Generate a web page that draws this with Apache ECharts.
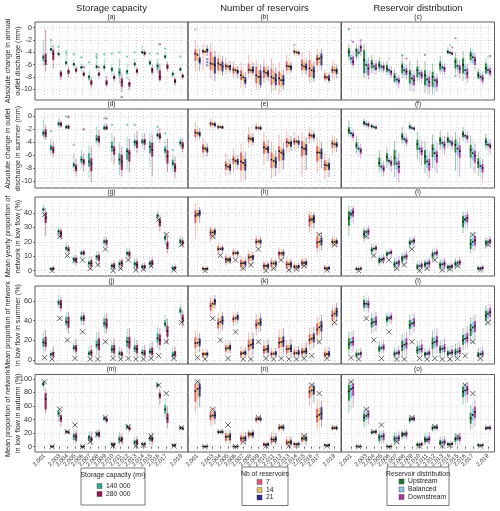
<!DOCTYPE html>
<html>
<head>
<meta charset="utf-8">
<title>Reservoir scenarios</title>
<script src="https://cdn.jsdelivr.net/npm/echarts@6/dist/echarts.min.js"></script>
<style>
  html, body { margin: 0; padding: 0; background: #fff; }
  #main { width: 500px; height: 511px; }
</style>
</head>
<body>
<div id="main"></div>
<script type="text/javascript">
var years = [2001, 2002, 2003, 2004, 2005, 2006, 2007, 2008, 2009, 2010, 2011, 2012, 2013, 2014, 2015, 2016, 2017, 2018, 2019];

// each box: [lower whisker, Q1, median, Q3, upper whisker]
// row 1: absolute change in annual outlet discharge (mm)
var a140 = [[-6.3,-5.35,-4.8,-4.4,-2.0],[-4.2,-3.8,-3.5,-3.3,-2.3],[-4.8,-4.5,-4.3,-4.0,-3.6],[-6.3,-5.95,-5.7,-5.4,-4.4],[-6.6,-6.2,-5.9,-5.7,-5.2],[-7.1,-6.7,-6.4,-6.2,-5.8],[-8.8,-8.4,-7.95,-7.7,-7.1],[-6.9,-6.6,-6.3,-6.1,-4.4],[-7.1,-6.7,-6.4,-6.05,-5.0],[-7.7,-7.1,-6.75,-6.4,-5.8],[-9.0,-7.8,-7.25,-6.6,-5.0],[-8.4,-7.5,-7.1,-6.8,-5.8],[-6.6,-6.2,-5.9,-5.6,-5.0],[-4.4,-4.2,-4.0,-3.8,-2.8],[-6.3,-6.05,-5.7,-5.35,-5.0],[-7.4,-6.8,-6.2,-5.8,-5.0],[-5.2,-4.97,-4.7,-4.4,-3.9],[-8.05,-7.8,-7.5,-7.25,-6.9],[-7.4,-7.0,-6.75,-6.5,-6.05]];
var a280 = [[-7.1,-6.05,-5.35,-4.2,-0.3],[-6.6,-5.24,-4.2,-3.6,-2.8],[-8.5,-7.95,-7.5,-7.1,-6.8],[-8.0,-7.5,-7.1,-6.8,-6.3],[-7.4,-7.14,-6.9,-6.6,-6.2],[-8.05,-7.8,-7.5,-7.25,-6.9],[-9.8,-9.3,-8.9,-8.5,-8.0],[-8.05,-7.8,-7.5,-7.25,-6.9],[-9.6,-9.3,-8.9,-8.5,-7.8],[-8.8,-8.3,-8.05,-7.8,-7.4],[-10.4,-9.57,-8.75,-8.2,-7.4],[-10.1,-9.57,-9.1,-8.8,-8.2],[-7.7,-7.3,-7.05,-6.7,-6.4],[-4.7,-4.4,-4.15,-3.9,-3.6],[-7.7,-7.3,-6.85,-6.5,-6.05],[-8.8,-8.5,-7.95,-6.9,-5.8],[-7.1,-6.7,-6.3,-5.95,-5.5],[-9.4,-9.0,-8.65,-8.3,-7.95],[-8.4,-8.1,-7.85,-7.6,-7.3]];
var a140Out = [[2002,-2.0],[2003,-3.1],[2004,-3.8],[2004,-4.2],[2005,-4.3],[2006,-4.8],[2007,-5.6],[2008,-4.3],[2008,-4.8],[2009,-4.3],[2010,-4.2],[2011,-4.0],[2012,-4.7],[2013,-4.0],[2015,-4.2],[2016,-4.2],[2017,-3.4],[2019,-4.7]];
var a280Out = [[2006,-6.4],[2008,-6.4],[2011,-11.2],[2016,-2.7]];

var b7 = [[-7.2,-5.4,-4.2,-3.5,-2.0],[-6.9,-4.2,-3.8,-3.6,-2.6],[-8.2,-6.9,-5.8,-3.9,-2.5],[-7.6,-6.9,-5.8,-5.0,-4.2],[-7.6,-6.8,-6.2,-5.8,-4.8],[-8.2,-7.4,-6.8,-6.3,-5.4],[-9.8,-8.5,-7.7,-6.9,-5.6],[-8.2,-7.4,-6.8,-5.8,-4.4],[-10.0,-9.0,-7.7,-6.3,-5.2],[-9.0,-8.2,-7.1,-6.3,-5.0],[-10.6,-9.3,-7.95,-6.6,-5.0],[-10.8,-9.3,-8.2,-7.1,-5.6],[-7.6,-6.9,-6.2,-5.5,-4.4],[-4.6,-4.2,-3.9,-3.6,-3.2],[-7.6,-6.9,-6.05,-5.2,-4.0],[-9.0,-8.0,-6.6,-5.2,-3.8],[-7.2,-6.1,-5.1,-4.4,-3.4],[-8.8,-8.4,-7.95,-7.4,-6.8],[-8.4,-7.4,-6.9,-6.3,-5.4]];
var b14 = [[-6.8,-5.3,-4.4,-3.9,-2.8],[-5.0,-4.2,-3.9,-3.6,-2.9],[-7.6,-6.9,-5.9,-4.7,-3.6],[-7.6,-6.9,-6.0,-5.5,-4.5],[-7.2,-6.8,-6.3,-6.0,-5.2],[-8.0,-7.3,-6.9,-6.5,-5.8],[-9.6,-8.6,-8.05,-7.4,-6.3],[-7.8,-7.4,-6.9,-6.3,-5.2],[-9.8,-9.0,-7.95,-6.9,-5.8],[-8.6,-8.0,-7.3,-6.6,-5.6],[-10.2,-9.0,-8.2,-7.1,-5.6],[-10.4,-9.6,-8.5,-7.4,-6.3],[-7.4,-6.9,-6.3,-5.8,-5.0],[-4.6,-4.2,-4.0,-3.8,-3.4],[-7.4,-6.9,-6.3,-5.5,-4.6],[-8.8,-8.0,-6.9,-5.8,-4.6],[-6.6,-5.8,-5.0,-4.7,-3.8],[-8.8,-8.4,-8.05,-7.7,-7.2],[-8.2,-7.4,-6.9,-6.3,-5.6]];
var b21 = [[-7.0,-5.8,-5.35,-4.8,-3.4],[-4.6,-4.0,-3.6,-3.4,-2.8],[-8.7,-7.4,-6.1,-4.7,-3.7],[-7.8,-7.1,-6.3,-5.5,-4.6],[-7.3,-6.9,-6.3,-6.05,-5.4],[-8.2,-7.5,-7.1,-6.8,-6.2],[-9.8,-9.1,-8.6,-8.0,-7.2],[-7.8,-7.3,-6.9,-6.3,-5.6],[-9.8,-9.3,-7.95,-6.9,-6.0],[-8.6,-8.0,-7.4,-6.9,-6.2],[-10.0,-9.3,-8.5,-7.4,-6.4],[-10.0,-9.3,-8.5,-7.7,-6.8],[-7.3,-6.9,-6.4,-6.1,-5.5],[-4.6,-4.3,-4.1,-3.9,-3.6],[-7.6,-6.9,-6.4,-5.8,-5.0],[-8.8,-8.2,-7.1,-6.3,-5.5],[-6.9,-6.1,-4.8,-4.2,-3.4],[-9.0,-8.6,-8.4,-7.7,-7.2],[-8.2,-7.5,-7.0,-6.6,-6.0]];
var b7Out = [[2001,-0.3],[2014,-2.8]];
var b21Out = [[2002,-5.1],[2002,-5.6],[2002,-6.1]];

var cUp = [[-5.4,-4.7,-3.9,-3.35,-2.6],[-5.2,-4.7,-3.7,-3.35,-2.6],[-8.2,-7.4,-5.24,-3.62,-2.6],[-7.4,-6.6,-5.8,-5.24,-4.4],[-7.2,-6.6,-6.05,-5.5,-4.8],[-7.7,-7.14,-6.6,-6.05,-5.4],[-9.0,-8.76,-7.95,-7.4,-6.6],[-8.2,-7.4,-6.3,-5.8,-4.8],[-10.2,-9.03,-7.4,-6.86,-5.4],[-8.6,-8.0,-6.9,-6.3,-5.2],[-10.6,-9.3,-7.7,-6.9,-5.4],[-10.8,-9.57,-7.95,-7.14,-5.8],[-7.4,-6.86,-6.05,-5.5,-4.6],[-4.4,-4.16,-3.89,-3.73,-3.2],[-7.4,-6.6,-5.5,-4.97,-4.0],[-8.6,-7.4,-6.05,-4.97,-3.8],[-5.8,-5.24,-4.43,-3.89,-3.2],[-8.4,-8.2,-7.68,-7.14,-6.6],[-7.6,-7.41,-6.6,-5.8,-5.0]];
var cBal = [[-6.2,-5.8,-5.0,-4.4,-3.6],[-5.0,-4.4,-4.05,-3.6,-3.0],[-8.0,-7.4,-6.05,-5.24,-4.0],[-7.6,-6.9,-6.3,-5.8,-5.0],[-7.3,-6.9,-6.3,-6.05,-5.4],[-8.0,-7.4,-6.9,-6.6,-6.0],[-9.6,-9.03,-8.4,-7.95,-7.2],[-8.2,-7.7,-6.9,-6.3,-5.6],[-10.3,-9.3,-8.2,-7.4,-6.4],[-8.8,-8.2,-7.4,-6.9,-6.2],[-10.8,-9.57,-8.4,-7.7,-6.6],[-10.8,-9.84,-8.5,-7.95,-6.9],[-7.6,-7.14,-6.43,-6.05,-5.5],[-4.5,-4.3,-4.05,-3.89,-3.6],[-7.6,-6.9,-6.2,-5.8,-5.0],[-8.4,-7.7,-6.9,-6.05,-5.2],[-6.3,-5.8,-4.8,-4.16,-3.4],[-8.8,-8.5,-7.95,-7.4,-6.9],[-7.7,-7.41,-6.86,-6.3,-5.6]];
var cDown = [[-6.5,-6.05,-5.5,-4.7,-3.8],[-4.6,-3.9,-3.2,-2.8,-2.3],[-8.4,-7.7,-6.6,-5.8,-4.8],[-7.6,-6.9,-6.6,-5.8,-5.2],[-7.3,-6.9,-6.4,-6.05,-5.5],[-8.2,-7.7,-7.14,-6.9,-6.2],[-9.8,-9.03,-8.6,-8.2,-7.6],[-8.4,-7.7,-7.14,-6.6,-6.0],[-10.4,-9.3,-8.5,-7.7,-6.9],[-9.0,-8.2,-7.7,-7.14,-6.6],[-10.8,-9.57,-8.76,-7.95,-7.0],[-10.4,-9.57,-8.76,-8.2,-7.4],[-7.6,-7.14,-6.6,-6.3,-5.8],[-4.6,-4.4,-4.2,-4.0,-3.7],[-8.2,-7.4,-6.6,-6.05,-5.2],[-9.0,-8.2,-7.4,-6.6,-5.8],[-6.9,-6.05,-5.24,-4.7,-4.0],[-9.2,-8.76,-8.2,-7.68,-7.1],[-8.0,-7.68,-7.14,-6.6,-6.0]];
var cUpOut = [[2001,-0.27],[2008,-4.5],[2011,-4.4],[2015,-1.7],[2015,-7.8]];
var cBalOut = [[2001,-2.1],[2006,-5.0],[2014,-2.8],[2019,-4.8]];
var cDownOut = [[2001,-2.3],[2002,-2.1],[2008,-5.0],[2014,-3.2],[2019,-4.6]];

// row 2: absolute change in outlet discharge in summer (mm)
var d140 = [[-3.4,-3.0,-2.6,-2.2,-0.5],[-6.0,-5.3,-4.9,-4.4,-3.4],[-1.7,-1.45,-1.15,-0.78,-0.26],[-2.0,-1.9,-1.65,-1.4,-1.2],[-8.55,-7.9,-7.5,-7.15,-5.7],[-8.0,-7.25,-6.7,-6.2,-5.2],[-9.6,-7.8,-7.0,-5.7,-4.4],[-4.4,-3.9,-3.5,-2.85,-1.55],[-2.3,-2.07,-1.8,-1.45,-1.0],[-7.0,-5.45,-4.7,-3.9,-2.6],[-9.1,-7.5,-6.7,-5.7,-4.1],[-8.3,-6.7,-5.4,-4.9,-3.1],[-5.2,-4.55,-4.0,-3.6,-2.6],[-4.9,-4.25,-3.9,-3.5,-2.6],[-7.8,-5.7,-4.7,-3.9,-2.6],[-3.6,-3.2,-2.9,-2.6,-2.1],[-6.7,-5.7,-5.2,-4.65,-3.6],[-8.8,-7.7,-7.25,-6.7,-6.0],[-5.0,-4.5,-4.1,-3.7,-3.2]];
var d280 = [[-3.6,-3.2,-2.6,-2.0,-1.3],[-6.3,-5.7,-5.2,-4.65,-3.9],[-1.8,-1.55,-1.2,-0.93,-0.5],[-2.0,-1.95,-1.65,-1.4,-1.2],[-9.2,-8.5,-8.0,-7.5,-6.5],[-8.5,-7.5,-7.0,-6.6,-5.7],[-10.2,-8.5,-7.3,-6.5,-4.7],[-4.7,-4.05,-3.6,-3.0,-2.1],[-2.1,-2.07,-1.8,-1.45,-1.1],[-7.5,-5.95,-5.2,-4.65,-3.1],[-9.3,-8.3,-7.0,-5.95,-4.7],[-8.6,-7.0,-5.7,-5.2,-3.4],[-5.7,-4.9,-4.1,-3.7,-2.3],[-5.2,-4.4,-3.9,-3.5,-2.6],[-9.3,-6.2,-5.2,-4.1,-2.8],[-4.1,-3.5,-3.1,-2.6,-1.8],[-8.6,-7.3,-6.2,-5.2,-3.4],[-9.6,-8.6,-7.9,-7.3,-6.2],[-5.6,-5.0,-4.5,-4.0,-3.4]];
var d140Out = [[2002,-2.3],[2004,0],[2005,-4.4],[2009,-0.3],[2010,-1.3],[2012,-1.3],[2013,-1.3],[2016,-1.6],[2017,-2.6],[2018,-5.2]];
var d280Out = [[2004,-0.1],[2006,-2.0],[2009,-0.3]];

var e7 = [[-3.8,-3.2,-2.5,-2.0,-0.8],[-6.4,-5.6,-4.9,-4.3,-3.3],[-1.9,-1.5,-1.1,-0.8,-0.3],[-2.1,-1.9,-1.6,-1.4,-1.1],[-9.2,-8.3,-7.6,-7.0,-5.6],[-8.6,-7.4,-6.7,-6.1,-5.0],[-10.2,-8.4,-7.0,-5.6,-4.2],[-4.8,-4.0,-3.4,-2.8,-1.6],[-2.3,-2.05,-1.75,-1.45,-0.9],[-7.6,-5.8,-4.8,-3.9,-2.4],[-9.6,-8.0,-6.7,-5.6,-3.8],[-8.8,-6.9,-5.4,-4.6,-2.8],[-5.8,-4.8,-4.0,-3.4,-2.2],[-5.2,-4.4,-3.9,-3.4,-2.4],[-9.4,-6.2,-4.8,-3.8,-2.4],[-4.2,-3.5,-2.9,-2.5,-1.6],[-8.8,-7.0,-5.6,-4.6,-3.2],[-9.8,-8.4,-7.5,-6.8,-5.6],[-5.8,-4.9,-4.2,-3.7,-2.9]];
var e14 = [[-3.5,-3.0,-2.6,-2.2,-1.4],[-6.2,-5.5,-5.0,-4.6,-3.8],[-1.8,-1.5,-1.2,-0.9,-0.5],[-2.0,-1.85,-1.65,-1.45,-1.2],[-9.0,-8.3,-7.8,-7.2,-6.2],[-8.2,-7.4,-6.9,-6.4,-5.6],[-9.8,-8.2,-7.2,-6.2,-4.8],[-4.5,-3.9,-3.5,-3.0,-2.2],[-2.2,-2.0,-1.8,-1.5,-1.1],[-7.2,-5.6,-5.0,-4.3,-3.0],[-9.4,-7.9,-6.9,-6.0,-4.6],[-8.4,-6.8,-5.6,-4.9,-3.4],[-5.5,-4.7,-4.1,-3.6,-2.6],[-5.0,-4.3,-3.9,-3.5,-2.8],[-8.6,-6.0,-5.0,-4.0,-2.8],[-4.0,-3.4,-3.0,-2.6,-2.0],[-8.4,-6.8,-5.6,-4.8,-3.6],[-9.6,-8.3,-7.6,-7.0,-6.0],[-5.6,-4.8,-4.3,-3.8,-3.1]];
var e21 = [[-3.6,-3.1,-2.7,-2.4,-1.8],[-6.2,-5.6,-5.2,-4.8,-4.2],[-1.8,-1.55,-1.25,-1.0,-0.7],[-2.0,-1.9,-1.7,-1.5,-1.3],[-9.0,-8.4,-7.9,-7.4,-6.6],[-8.2,-7.5,-7.0,-6.6,-6.0],[-9.8,-8.4,-7.5,-6.6,-5.4],[-4.5,-4.0,-3.6,-3.2,-2.6],[-2.2,-2.05,-1.85,-1.6,-1.3],[-7.0,-5.7,-5.1,-4.6,-3.6],[-9.2,-8.0,-7.1,-6.3,-5.2],[-8.2,-6.8,-5.8,-5.1,-4.0],[-5.4,-4.7,-4.2,-3.8,-3.0],[-5.0,-4.4,-4.0,-3.7,-3.0],[-8.4,-6.0,-5.1,-4.3,-3.2],[-3.9,-3.4,-3.05,-2.7,-2.2],[-8.0,-6.6,-5.7,-5.0,-4.0],[-9.4,-8.3,-7.7,-7.2,-6.4],[-5.5,-4.8,-4.4,-4.0,-3.4]];
var fUp = [[-3.2,-2.7,-2.2,-1.7,-0.6],[-5.8,-5.0,-4.5,-4.0,-3.0],[-1.6,-1.3,-1.0,-0.7,-0.3],[-1.9,-1.75,-1.5,-1.3,-1.0],[-8.6,-7.8,-7.2,-6.4,-5.2],[-8.0,-7.0,-6.3,-5.7,-4.8],[-9.4,-7.6,-6.4,-5.2,-3.8],[-4.2,-3.6,-3.1,-2.6,-1.6],[-2.1,-1.9,-1.6,-1.35,-0.9],[-6.6,-5.2,-4.3,-3.6,-2.4],[-8.8,-7.4,-6.2,-5.2,-3.8],[-8.0,-6.3,-5.0,-4.3,-2.8],[-5.2,-4.4,-3.7,-3.2,-2.2],[-4.8,-4.1,-3.6,-3.2,-2.4],[-8.4,-5.6,-4.4,-3.6,-2.4],[-3.8,-3.2,-2.7,-2.3,-1.6],[-8.0,-6.4,-5.2,-4.4,-3.0],[-9.2,-8.0,-7.2,-6.5,-5.4],[-5.2,-4.5,-3.9,-3.4,-2.7]];
var fBal = [[-3.5,-3.0,-2.6,-2.3,-1.6],[-6.2,-5.5,-5.0,-4.6,-3.8],[-1.8,-1.5,-1.2,-0.9,-0.6],[-2.0,-1.85,-1.65,-1.45,-1.2],[-9.0,-8.3,-7.8,-7.3,-6.4],[-8.3,-7.4,-6.9,-6.5,-5.8],[-9.8,-8.3,-7.3,-6.4,-5.0],[-4.6,-3.9,-3.5,-3.1,-2.4],[-2.2,-2.0,-1.8,-1.55,-1.2],[-7.2,-5.7,-5.0,-4.4,-3.2],[-9.3,-8.0,-7.0,-6.1,-4.8],[-8.5,-6.8,-5.7,-5.0,-3.6],[-5.6,-4.8,-4.1,-3.7,-2.8],[-5.0,-4.4,-3.9,-3.6,-2.9],[-8.8,-6.0,-5.0,-4.1,-2.9],[-4.0,-3.4,-3.0,-2.7,-2.1],[-8.4,-6.8,-5.7,-4.9,-3.6],[-9.6,-8.4,-7.7,-7.1,-6.2],[-5.6,-4.8,-4.4,-3.9,-3.2]];
var fDown = [[-3.8,-3.3,-2.9,-2.5,-1.9],[-6.5,-5.8,-5.3,-4.9,-4.2],[-1.9,-1.6,-1.3,-1.0,-0.7],[-2.1,-1.9,-1.75,-1.55,-1.3],[-9.3,-8.6,-8.1,-7.6,-6.8],[-8.6,-7.7,-7.2,-6.8,-6.1],[-10.2,-8.8,-7.8,-6.9,-5.6],[-4.8,-4.2,-3.8,-3.4,-2.7],[-2.3,-2.1,-1.9,-1.7,-1.4],[-7.6,-6.0,-5.4,-4.8,-3.6],[-9.6,-8.4,-7.4,-6.6,-5.4],[-8.8,-7.2,-6.1,-5.4,-4.0],[-5.9,-5.0,-4.4,-3.9,-3.0],[-5.3,-4.6,-4.2,-3.8,-3.1],[-9.3,-6.4,-5.4,-4.5,-3.2],[-4.2,-3.6,-3.2,-2.9,-2.3],[-8.8,-7.2,-6.1,-5.3,-4.2],[-9.9,-8.7,-8.0,-7.4,-6.6],[-5.8,-5.0,-4.6,-4.2,-3.5]];

// row 3: mean yearly proportion of network in low flow (%)
var g140 = [[38.8,41.2,42.3,43.5,45.8],[0,0.5,1.2,2.1,2.8],[22.6,25.6,27.2,28.4,30.7],[12.1,14.0,15.6,16.7,19.1],[4.0,6.3,7.9,9.3,10.9],[8.6,10.9,12.1,13.3,14.4],[1.6,3.5,5.1,6.7,9.8],[5.1,7.4,9.8,10.9,13.3],[16.3,18.6,20.2,21.4,23.7],[0.5,1.6,3.3,4.7,6.3],[0.9,3.3,4.7,6.3,7.9],[8.6,10.5,12.1,13.3,15.6],[0.9,2.8,4.7,6.3,8.6],[0.5,1.6,2.8,4.0,5.1],[1.6,3.5,5.1,6.7,8.6],[34.2,36.5,38.1,39.5,41.2],[17.9,20.9,22.6,24.2,27.2],[0,0.5,1.6,2.8,4.0],[17,19,20.5,22,24]];
var g280 = [[23.7,33.0,36.5,40.0,43.5],[0,0.5,1.4,2.3,3.3],[21.4,23.3,26.0,27.9,29.5],[11.6,13.3,14.4,16.3,17.9],[3.3,5.6,7.4,9.1,10.9],[9.8,10.9,12.1,13.7,14.9],[0.5,2.8,5.1,7.4,9.8],[4.0,6.7,9.1,10.9,13.3],[16.3,17.9,20.2,21.4,23.3],[0,1.4,3.3,5.1,7.0],[0.5,3.3,5.1,7.0,8.6],[7.4,9.8,11.6,13.3,15.1],[0,1.6,4.0,6.3,8.6],[0,1.4,2.8,4.0,5.6],[1.6,3.7,5.6,7.4,9.3],[27.2,30.7,33.5,35.8,38.8],[12.1,14.9,17.9,20.2,23.7],[0,0.9,1.8,3.0,4.5],[16,18,19.5,21,23]];
var h7 = [[22,33,38,42,47],[0,0.5,1.3,2.3,3.5],[20,23.5,26.5,29,31],[11,13.5,15,17,19.5],[3,5.5,7.8,9.8,12],[8,10.5,12,13.8,15.5],[0.5,2.5,5,7.5,10.5],[3.5,6.5,9.2,11.5,14],[15.5,18,20,22,24.5],[0,1.2,3.3,5.2,7.5],[0.5,3,5,7,9],[7,9.8,12,13.7,16],[0,1.8,4.4,6.6,9],[0,1.3,2.8,4.2,6],[1,3.4,5.3,7.3,9.5],[26,30.5,35,38.5,41.5],[12,15.5,19.5,23,27],[0,0.6,1.7,2.9,4.3],[15.5,18,20,21.8,24]];
var h14 = [[28,36,39,42,45],[0,0.5,1.3,2.2,3.2],[21,24,26.5,28.5,30.5],[12,14,15,16.5,18.5],[4,6,7.8,9.3,11],[9,11,12.2,13.5,15],[1,3,5.2,7,9.5],[4.5,7,9.5,11,13.5],[16,18.3,20.2,21.7,23.8],[0,1.5,3.3,4.9,7],[0.8,3.3,5,6.8,8.5],[7.5,10,12,13.5,15.5],[0,2,4.4,6.4,8.5],[0,1.5,2.8,4,5.5],[1.5,3.6,5.4,7,9],[28,32,35.5,38.5,41],[13,16.5,20,23,26.5],[0,0.7,1.7,2.8,4],[16,18.3,20,21.5,23.5]];
var h21 = [[33,38,40,42,44],[0,0.6,1.3,2.0,3.0],[22,25,27,28.5,30],[12.5,14,15,16.3,18],[4.5,6.3,7.6,9,10.5],[9.5,11.2,12.2,13.3,14.5],[1.5,3.5,5.2,6.8,9],[5,7.5,9.5,10.8,13],[16.5,18.6,20.2,21.5,23.5],[0.5,1.8,3.4,4.8,6.5],[1,3.5,5,6.5,8.2],[8,10.3,12,13.3,15],[0.5,2.4,4.5,6.2,8.2],[0.3,1.6,2.9,3.9,5.2],[2,3.8,5.4,6.8,8.6],[29,33,36,38.5,40.5],[14,17.5,20.5,23,26],[0,0.8,1.7,2.7,3.8],[16.5,18.5,20,21.3,23]];
var iUp = [[24,31,36,41,45],[0,0.4,1.1,2,3],[20,23,25.5,28,30],[10.5,12.8,14.3,16,18.5],[3,5.2,7,8.8,11],[8,10,11.4,13,14.5],[0.5,2.4,4.4,6.4,9],[3.5,6,8.4,10.2,12.5],[15,17.5,19.3,21,23],[0,1,2.8,4.4,6.5],[0.5,2.7,4.4,6.2,8],[6.5,9,11,12.8,15],[0,1.6,3.9,5.8,8],[0,1.1,2.4,3.7,5.2],[1,3,4.7,6.5,8.6],[26,30,34,38,41],[12,15,18.5,22,26],[0,0.5,1.4,2.5,3.8],[15,17.5,19.3,21,23]];
var iBal = [[30,36,39.5,42,44.5],[0,0.5,1.3,2.2,3.2],[21.5,24.5,26.8,28.5,30.5],[12,14,15.2,16.6,18.6],[4,6.2,7.8,9.3,11],[9,11,12.2,13.5,15],[1,3,5.2,7,9.5],[4.5,7,9.4,11,13.5],[16,18.3,20.2,21.7,23.8],[0,1.5,3.3,4.9,7],[0.8,3.3,5,6.8,8.5],[7.5,10,12,13.5,15.5],[0,2,4.4,6.4,8.5],[0,1.5,2.8,4,5.5],[1.5,3.6,5.4,7,9],[28,32,35.5,38.5,41],[13,16.5,20,23,26.5],[0,0.7,1.7,2.8,4],[16,18.3,20,21.5,23.5]];
var iDown = [[33,38,40.5,43,45],[0,0.6,1.4,2.3,3.3],[22,25,27,29,31],[12.5,14.3,15.5,17,19],[4.5,6.5,8.2,9.6,11.5],[9.5,11.4,12.6,13.9,15.3],[1.5,3.5,5.6,7.5,10],[5,7.8,9.9,11.5,14],[16.5,18.8,20.6,22.2,24.3],[0.3,1.8,3.6,5.2,7.3],[1,3.6,5.3,7.1,9],[8,10.5,12.4,14,16],[0.3,2.4,4.8,6.8,9],[0.2,1.7,3.1,4.3,5.8],[2,4,5.8,7.4,9.5],[29,33.5,36.5,39,41.5],[14,17.5,21,24,27],[0,0.8,1.9,3,4.3],[16.5,18.7,20.5,22,24]];
var lowFlowRef = [38.8, 0, 23.7, 10.5, 7, 7.4, 1.6, 4, 14.9, 0, 1.6, 7.4, 0.5, 1, 3.3, 35.3, 24.9, 0.5, 18];

// row 4: mean proportion of network in low flow in summer (%)
var j140 = [[6.7,13.5,17.9,21.9,28.6],[2.4,4.0,5.7,7.4,10.1],[52.2,55.6,58.3,60.7,65.7],[30.3,35.4,38.8,43.8,48.9],[6.7,10.1,12.5,15.2,18.5],[35.4,39.8,42.1,44.8,48.9],[1.7,4.4,6.7,9.1,13.5],[5.1,11.8,15.2,20.2,28.6],[27.0,33.7,37.1,42.1,47.2],[3.4,7.4,10.8,15.2,20.2],[1.7,4.4,6.7,9.1,13.5],[6.7,13.5,18.5,23.6,32.0],[5.1,8.4,11.8,15.2,21.9],[2.4,5.1,7.4,10.1,13.5],[3.4,6.1,8.4,11.8,16.9],[11.8,17.9,21.9,27.0,33.7],[28.6,33.7,36.4,40.4,45.5],[1.0,3.4,5.1,8.4,13.5],[42,47,50,53,56]];
var j280 = [[8.4,13.5,16.9,23.6,30.3],[1.7,3.4,6.7,8.4,13.5],[48.9,52.2,56.6,60.7,64.0],[27.0,32.7,38.1,43.8,48.9],[5.1,8.4,11.8,15.2,21.9],[35.4,39.4,42.8,45.5,48.9],[1.7,4.4,7.4,10.1,15.2],[3.4,10.1,15.8,21.9,28.6],[27.0,32.0,36.1,42.1,47.2],[3.4,6.7,10.8,15.2,21.9],[1.7,4.0,6.1,8.4,11.8],[5.1,11.8,17.9,23.6,32.0],[3.4,6.7,11.1,15.2,20.2],[2.4,4.4,6.7,10.1,15.2],[1.7,5.1,8.4,12.5,18.5],[10.1,15.2,20.2,26.0,32.0],[16.9,23.6,29.3,34.7,42.1],[1.7,4.0,6.7,9.1,13.5],[33,38,42,46,50]];
var k7 = [[5,12,17,23,30],[1.5,3.5,6,8,12],[45,50,55,59,64],[26,32,37,42,48],[5,8.5,11.5,15,20],[34,38.5,41.5,44.5,48.5],[1.5,4,6.5,9,14],[3,9.5,14.5,20.5,28],[25,31.5,35.5,41,46.5],[2.5,6.5,10,14.5,20.5],[1.5,4,6.2,8.6,12.5],[5,12,17.5,23,31],[3,7,11,15,20.5],[2,4.4,6.8,9.8,14],[1.6,5.2,8,11.8,17],[10,16,20.5,26,33],[17,25,31,37,44],[1.2,3.4,5.6,8.4,13],[33,40,45,50,55]];
var k14 = [[7,13.5,17.5,22,28],[2,4,6.2,8,11],[48,53,57,60.5,64],[28,34,38.5,43,48],[6,9.5,12.2,15.2,19.5],[35.5,39.5,42.5,45,48.5],[2,4.5,7,9.5,13.5],[4,10.5,15.5,21,28],[27,33,37,41.5,47],[3.5,7,10.8,15,20.5],[2,4.3,6.5,8.8,12.5],[6,12.8,18.2,23.5,31.5],[4,7.6,11.5,15.2,21],[2.4,4.8,7.1,10,14.2],[2.4,5.7,8.5,12.2,17.5],[11,17,21.5,26.5,33.5],[19,27,33,38.5,45],[1.5,3.7,6,8.8,13.5],[36,42,47,51,56]];
var k21 = [[8,14,18,22,27],[2.5,4.3,6.3,7.8,10.5],[52,56,59.5,62,66],[30,36,40,44.5,49],[7,10,12.8,15.5,19],[37,40.5,43.5,46,49],[2.5,5,7.3,9.5,13],[5,11.5,16.5,21.5,28],[29,34.5,38,42.5,47.5],[4,7.5,11.5,15.5,21],[2.5,4.6,6.8,9,12.5],[7,13.5,19,24,32],[4.5,8.2,12,15.5,21.5],[2.8,5.1,7.4,10.2,14.5],[3,6.2,9,12.5,18],[12,18,22.5,27,34],[21,29,34.5,39.5,45.5],[1.8,4,6.3,9,13.5],[39,44,49,53,58]];
var lUp = [[5,11,16,22,29],[1.5,3.2,5.4,7.6,11],[49,53,57,61,65],[27,33,37.5,42.5,48],[5,8.3,11.2,14.5,19],[34,38.5,41.5,44.5,48],[1.5,3.8,6.2,8.6,12.5],[3,9.2,14,19.5,27],[25,31.5,35.5,40.5,46],[2.5,6.2,9.8,14,19.5],[1.5,3.8,5.9,8.2,12],[5,11.5,17,22.5,30],[3,7,10.8,14.5,20],[2,4.3,6.5,9.4,13.5],[1.6,5,7.7,11.4,16.5],[10,15.5,20,25.5,32.5],[17,24.5,30.5,36.5,43.5],[1.2,3.2,5.3,8,12.5],[34,40,45,50,55]];
var lBal = [[7,13.5,17.8,22.5,29],[2,4,6.2,8,11.5],[49,53,57,60.5,64.5],[28,34,38.5,43,48.5],[6,9.3,12.2,15.2,19.5],[35.5,39.7,42.5,45,48.5],[2,4.5,7,9.5,13.5],[4,10.5,15.5,21,28],[27,33,37,41.5,47],[3.5,7,10.8,15,20.5],[2,4.3,6.5,8.8,12.5],[6,12.8,18.2,23.5,31.5],[4,7.6,11.5,15.2,21],[2.4,4.8,7.1,10,14.2],[2.4,5.7,8.5,12.2,17.5],[11,17,21.5,26.5,33.5],[19,27,33,38.5,45],[1.5,3.7,6,8.8,13.5],[36,42,47,51,56]];
var lDown = [[8,14.5,18.5,23.5,30],[2.5,4.4,6.7,8.6,12.5],[48,52.5,56.5,60,64],[29,35,39,44,49],[7,10,12.8,16,20.5],[36.5,40.5,43.3,45.8,49],[2.5,5,7.6,10,14.5],[5,11.5,16.5,22,29],[28,34,37.8,42.5,48],[4,7.8,11.6,15.8,21.5],[2.5,4.8,7,9.3,13],[7,13.8,19.2,24.5,32.5],[4.5,8.2,12.2,16,22],[2.8,5.2,7.6,10.6,15],[3,6.3,9.2,13,18.5],[12,18,22.5,27.5,34.5],[21,28.5,34.5,39.5,46],[1.8,4.1,6.5,9.3,14],[38,43.5,48.5,52.5,57]];
var summerRef = [2.4, 1, 42.1, 20.2, 1.7, 28.6, 1, 1, 18.5, 1.7, 1, 1.7, 1, 1, 1.7, 4.4, 18.5, 1.7, 38];

// row 5: mean proportion of network in low flow in autumn (%)
var m140 = [[83.4,89.3,92.3,95.7,98.2],[0,0,0.3,0.8,1.5],[36.8,44.2,49.1,53.0,58.9],[19.0,20.6,22.1,23.6,25.0],[4.9,9.8,15.7,19.6,24.5],[0,0,0.3,0.8,1.5],[4.9,8.8,13.7,17.2,22.1],[12.3,15.7,18.6,22.1,25.5],[37.3,39.3,41.7,44.2,46.6],[0,1.0,3.4,5.9,8.3],[2.5,7.4,10.8,15.7,22.1],[24.5,27.0,29.4,31.9,34.4],[1.0,3.4,6.4,9.8,14.7],[0.5,2.0,3.9,5.9,7.9],[2.5,8.3,12.3,15.7,19.6],[85.9,88.3,90.8,93.3,95.7],[41.7,49.1,55.0,61.3,71.2],[0,1,2,3.5,5],[25,26.5,28,29.5,31]];
var m280 = [[49,55,70,79,86],[0,0,0.3,0.8,1.5],[29.4,36.8,41.7,46.6,51.5],[18.5,19.6,21.1,22.6,24.0],[4.9,8.8,14.7,19.6,24.5],[0,0,0.3,0.8,1.5],[2.5,7.4,10.8,14.7,22.1],[10.8,14.7,18.6,22.1,25.5],[34.4,36.8,39.3,42.7,45.2],[0,1.0,3.4,5.4,7.9],[3.4,7.4,10.8,14.7,19.6],[22.1,24.5,27.0,29.4,32.4],[0.5,2.5,6.4,10.8,15.7],[0.5,2.0,3.9,5.9,7.9],[2.5,7.4,11.3,14.7,20.6],[62,71.2,76.1,79.5,85.9],[27.0,35.3,41.7,49.1,58.9],[0,1,2,3.5,5],[24,25.5,27,28.5,30]];
var n7 = [[50,66,82,92,97],[0,0,0.3,0.8,1.5],[30,39,45,51,58],[18.5,20,21.6,23.2,24.8],[4,8.5,14.5,19.5,25],[0,0,0.3,0.8,1.5],[2.5,7.5,12,16.5,22.5],[10.5,14.8,18.4,22,26],[34,37,40.2,43.8,46.5],[0,0.8,3.2,5.8,8.5],[2.5,7,10.6,15.5,21.5],[22,25.2,28,30.8,33.8],[0.5,2.8,6.2,10.4,15.5],[0.4,1.9,3.8,5.9,8],[2.5,7.5,11.7,15.3,20.5],[60,72,81,88,94],[25,36,45,56,70],[0,1,2,3.5,5],[24,25.7,27.5,29.2,30.8]];
var n14 = [[55,70,85,93,97],[0,0,0.3,0.8,1.5],[32,40.5,46,51.5,57],[18.7,20.2,21.7,23.2,24.6],[4.5,9,15,19.6,24.5],[0,0,0.3,0.8,1.5],[3,8,12.3,16.2,22],[11,15,18.6,22,25.8],[35,37.8,40.6,43.5,46],[0,1,3.4,5.7,8.2],[3,7.3,10.8,15.3,21],[22.5,25.6,28.2,30.7,33.5],[0.7,3,6.4,10.3,15.2],[0.5,2,3.9,5.9,7.9],[2.8,7.9,11.9,15.3,20],[63,75,83,89,94.5],[27,38,47,57,69],[0,1,2,3.5,5],[24.2,25.9,27.6,29.2,30.6]];
var n21 = [[58,74,87,93,97],[0,0,0.3,0.8,1.5],[33,41.5,46.5,52,56.5],[19,20.4,21.8,23.1,24.4],[5,9.5,15.4,19.8,24.5],[0,0,0.3,0.8,1.5],[3.5,8.3,12.5,16,21.5],[11.5,15.3,18.8,22,25.5],[35.5,38.2,40.8,43.3,45.8],[0,1.2,3.5,5.6,8],[3.5,7.5,11,15.1,20.5],[23,26,28.4,30.6,33.2],[1,3.2,6.6,10.2,15],[0.6,2.1,4,5.9,7.8],[3,8.3,12.1,15.4,19.8],[65,77,84,90,95],[29,40,49,58,68],[0,1,2,3.5,5],[24.4,26,27.7,29.2,30.5]];
var oUp = [[50,68,82,91,97],[0,0,0.3,0.8,1.5],[28,37,43,49,56],[18.3,19.8,21.2,22.7,24.2],[4,8.2,13.8,18.6,23.5],[0,0,0.3,0.8,1.5],[2.5,7.2,11.5,15.8,21.5],[10.5,14.5,18,21.5,25.2],[34,37,40,43.2,46],[0,0.7,2.9,5.2,7.8],[2.5,6.8,10.2,14.8,20.5],[22,25,27.6,30.2,33],[0.5,2.6,5.8,9.8,14.5],[0.4,1.8,3.6,5.6,7.6],[2.5,7.3,11.2,14.8,19.5],[62,73,81,88,93.5],[25,34,42,50,62],[0,1,2,3.5,5],[24,25.6,27.3,29,30.6]];
var oBal = [[55,72,85,92,97],[0,0,0.3,0.8,1.5],[31,40,45.5,51,57],[18.7,20.2,21.7,23.2,24.6],[4.5,9,15,19.6,24.5],[0,0,0.3,0.8,1.5],[3,8,12.3,16.2,22],[11,15,18.6,22,25.8],[35,37.8,40.6,43.5,46],[0,1,3.4,5.7,8.2],[3,7.3,10.8,15.3,21],[22.5,25.6,28.2,30.7,33.5],[0.7,3,6.4,10.3,15.2],[0.5,2,3.9,5.9,7.9],[2.8,7.9,11.9,15.3,20],[63,75,83,89,94.5],[27,38,47,56,67],[0,1,2,3.5,5],[24.2,25.9,27.6,29.2,30.6]];
var oDown = [[58,75,87,93,97.5],[0,0,0.3,0.8,1.5],[33,42,47.5,53,59],[19,20.5,22,23.5,25],[5,9.7,15.8,20.2,25],[0,0,0.3,0.8,1.5],[3.5,8.5,12.8,16.8,22.5],[11.5,15.4,19,22.4,26.3],[35.5,38.3,41.2,44,46.8],[0,1.3,3.7,6,8.6],[3.5,7.8,11.4,15.8,21.6],[23,26.1,28.8,31.2,34],[1,3.4,6.9,10.8,15.8],[0.6,2.2,4.2,6.2,8.2],[3,8.5,12.5,15.8,20.6],[65,77,84.5,90,95],[30,42,51,59,70],[0,1,2,3.5,5],[24.4,26.2,27.9,29.5,31]];
var autumnRef = [95.7, 0, 55, 22, 32, 0, 7.4, 18, 42.7, 1, 8.8, 29.4, 1, 2, 15.7, 90.8, 78.5, 1, 28];

// axes
var rowTicks = [[0,-2,-4,-6,-8,-10],[0,-2,-4,-6,-8,-10],[0,10,20,30,40],[0,20,40,60],[0,20,40,60,80,100]];
var rowMin = [-11.7, -11.1, -3.7, -4, -7.8];
var rowMax = [0.9, 1.15, 51, 75, 106.5];
var rowNames = [
  'Absolute change in annual\noutlet discharge (mm)',
  'Absolute change in outlet\ndischarge in summer (mm)',
  'Mean yearly proportion of\nnetwork in low flow (%)',
  'Mean proportion of network\nin low flow in summer (%)',
  'Mean proportion of network\nin low flow in autumn (%)'
];
var colTitles = ['Storage capacity', 'Number of reservoirs', 'Reservoir distribution'];
var capNames = ['140 000', '280 000'];
var nbNames = ['7', '14', '21'];
var distNames = ['Upstream', 'Balanced', 'Downstream'];
var capColors = ['#35a98d', '#8c1c51'];
var nbColors = ['#dd5c72', '#e7c35e', '#2e2b8c'];
var distColors = ['#1e7b35', '#8ac8e8', '#ac349b'];

// layout
var colLeft = [35, 188, 341.5];
var colWidth = 153;
var rowTop = [22, 109, 197, 286, 374.5];
var rowHeight = [78, 79, 79, 78, 77.5];
var FONT = 'Liberation Sans, Arial, sans-serif';

var panels = [
  {row: 0, col: 0, boxes: [a140, a280], outs: [a140Out, a280Out]},
  {row: 0, col: 1, boxes: [b7, b14, b21], outs: [b7Out, [], b21Out]},
  {row: 0, col: 2, boxes: [cUp, cBal, cDown], outs: [cUpOut, cBalOut, cDownOut]},
  {row: 1, col: 0, boxes: [d140, d280], outs: [d140Out, d280Out]},
  {row: 1, col: 1, boxes: [e7, e14, e21], outs: []},
  {row: 1, col: 2, boxes: [fUp, fBal, fDown], outs: []},
  {row: 2, col: 0, boxes: [g140, g280], outs: [], ref: lowFlowRef},
  {row: 2, col: 1, boxes: [h7, h14, h21], outs: [], ref: lowFlowRef},
  {row: 2, col: 2, boxes: [iUp, iBal, iDown], outs: [], ref: lowFlowRef},
  {row: 3, col: 0, boxes: [j140, j280], outs: [], ref: summerRef},
  {row: 3, col: 1, boxes: [k7, k14, k21], outs: [], ref: summerRef},
  {row: 3, col: 2, boxes: [lUp, lBal, lDown], outs: [], ref: summerRef},
  {row: 4, col: 0, boxes: [m140, m280], outs: [], ref: autumnRef},
  {row: 4, col: 1, boxes: [n7, n14, n21], outs: [], ref: autumnRef},
  {row: 4, col: 2, boxes: [oUp, oBal, oDown], outs: [], ref: autumnRef}
];
var colColors = [capColors, nbColors, distColors];

function boxSeries(k, boxes, color, offset, width) {
  return {
    type: 'custom', xAxisIndex: k, yAxisIndex: k, silent: true,
    data: boxes.map(function (b, i) {
      return [years[i]].concat(b.slice().sort(function (u, v) { return u - v; }));
    }),
    renderItem: function (params, api) {
      var x = api.value(0) + offset;
      var lo = api.coord([x, api.value(1)]);
      var q1 = api.coord([x, api.value(2)]);
      var md = api.coord([x, api.value(3)]);
      var q3 = api.coord([x, api.value(4)]);
      var hi = api.coord([x, api.value(5)]);
      var w = api.size([width, 0])[0];
      return {type: 'group', children: [
        {type: 'line', shape: {x1: lo[0], y1: lo[1], x2: hi[0], y2: hi[1]}, style: {stroke: color, lineWidth: 1, opacity: 0.45}},
        {type: 'rect', shape: {x: q1[0] - w / 2, y: q3[1], width: w, height: Math.max(q1[1] - q3[1], 1)}, style: {fill: color, opacity: 0.9}},
        {type: 'rect', shape: {x: md[0] - 0.8, y: md[1] - 0.8, width: 1.6, height: 1.6}, style: {fill: '#111'}}
      ]};
    }
  };
}

function refSeries(k, ref) {
  return {
    type: 'custom', xAxisIndex: k, yAxisIndex: k, silent: true, z: 5,
    data: ref.map(function (v, i) { return [years[i], v]; }),
    renderItem: function (params, api) {
      var p = api.coord([api.value(0), api.value(1)]);
      var r = 2.6;
      return {type: 'group', children: [
        {type: 'line', shape: {x1: p[0] - r, y1: p[1] - r, x2: p[0] + r, y2: p[1] + r}, style: {stroke: '#222', lineWidth: 0.7}},
        {type: 'line', shape: {x1: p[0] - r, y1: p[1] + r, x2: p[0] + r, y2: p[1] - r}, style: {stroke: '#222', lineWidth: 0.7}}
      ]};
    }
  };
}

var grids = [], xAxes = [], yAxes = [], series = [], graphics = [];
var gridLine = {show: true, lineStyle: {type: [1, 2], color: '#c4c4c4', width: 0.7}};

panels.forEach(function (p, k) {
  var bottom = p.row === 4, left = p.col === 0;
  grids.push({left: colLeft[p.col], top: rowTop[p.row], width: colWidth, height: rowHeight[p.row],
    show: true, borderColor: '#4a4a4a', borderWidth: 0.9, backgroundColor: 'transparent'});
  xAxes.push({gridIndex: k, type: 'value', min: 1999.75, max: 2019.85,
    axisLine: {show: false},
    axisTick: {show: bottom, customValues: years, length: 2, lineStyle: {color: '#333', width: 0.7}},
    axisLabel: {show: bottom, customValues: years, rotate: 45, fontSize: 6, margin: 3, color: '#333', fontFamily: FONT,
      interval: 0, hideOverlap: false, showMinLabel: true, showMaxLabel: true},
    splitLine: gridLine});
  yAxes.push({gridIndex: k, type: 'value', min: rowMin[p.row], max: rowMax[p.row],
    axisLine: {show: false},
    axisTick: {show: left, customValues: rowTicks[p.row], length: 2, lineStyle: {color: '#333', width: 0.7}},
    axisLabel: {show: left, customValues: rowTicks[p.row], fontSize: 7.3, margin: 3, color: '#333', fontFamily: FONT,
      showMinLabel: true, showMaxLabel: true},
    splitLine: gridLine});

  var n = p.boxes.length;
  var step = n === 2 ? 0.3 : 0.28;
  var width = n === 2 ? 0.28 : 0.26;
  p.boxes.forEach(function (boxes, g) {
    var offset = (g - (n - 1) / 2) * step;
    var color = colColors[p.col][g];
    series.push(boxSeries(k, boxes, color, offset, width));
    var outs = p.outs[g] || [];
    if (outs.length) {
      series.push({type: 'scatter', xAxisIndex: k, yAxisIndex: k, silent: true,
        symbolSize: 2.4, itemStyle: {color: color, opacity: 0.55},
        data: outs.map(function (o) { return [o[0] + offset, o[1]]; })});
    }
  });
  if (p.ref) series.push(refSeries(k, p.ref));

  graphics.push({type: 'text', x: colLeft[p.col] + colWidth / 2, y: rowTop[p.row] - 5,
    style: {text: '(' + 'abcdefghijklmno'.charAt(k) + ')', fontSize: 6.5, fill: '#222', fontFamily: FONT,
      align: 'center', verticalAlign: 'middle'}});
});

// row titles, two lines rotated, centred on each row
rowNames.forEach(function (t, r) {
  graphics.push({type: 'text', x: 13, y: rowTop[r] + rowHeight[r] / 2, rotation: Math.PI / 2,
    style: {text: t, fontSize: 7.2, lineHeight: 9.5, fill: '#222', fontFamily: FONT,
      align: 'center', verticalAlign: 'middle'}});
});

colTitles.forEach(function (t, c) {
  graphics.push({type: 'text', x: colLeft[c] + colWidth / 2, y: 8,
    style: {text: t, fontSize: 9.5, fill: '#222', fontFamily: FONT, align: 'center', verticalAlign: 'middle'}});
});

// legends
function legend(box, title, names, colors, rowsY, swX) {
  graphics.push({type: 'rect', shape: {x: box[0], y: box[1], width: box[2], height: box[3]},
    style: {fill: '#fff', stroke: '#555', lineWidth: 0.8}});
  graphics.push({type: 'text', x: box[0] + box[2] / 2, y: box[1] + 7,
    style: {text: title, fontSize: 6.8, fill: '#222', fontFamily: FONT, align: 'center', verticalAlign: 'middle'}});
  names.forEach(function (nm, i) {
    graphics.push({type: 'rect', shape: {x: swX, y: rowsY[i] - 2.5, width: 5, height: 5},
      style: {fill: colors[i], stroke: '#333', lineWidth: 0.4}});
    graphics.push({type: 'text', x: swX + 9, y: rowsY[i],
      style: {text: nm, fontSize: 6.8, fill: '#222', fontFamily: FONT, align: 'left', verticalAlign: 'middle'}});
  });
}
legend([81, 468, 64, 37], 'Storage capacity (m\u00b3)', capNames, capColors, [486, 494], 97);
legend([242, 467, 46, 38.5], 'Nb of reservoirs', nbNames, nbColors, [482, 490, 497.5], 257);
legend([387, 467, 62, 38.5], 'Reservoir distribution', distNames, distColors, [481.5, 489.5, 497], 399);

var chart = echarts.init(document.getElementById('main'));
chart.setOption({
  animation: false,
  backgroundColor: '#fff',
  textStyle: {fontFamily: FONT},
  grid: grids,
  xAxis: xAxes,
  yAxis: yAxes,
  series: series,
  graphic: graphics
});
</script>
</body>
</html>
